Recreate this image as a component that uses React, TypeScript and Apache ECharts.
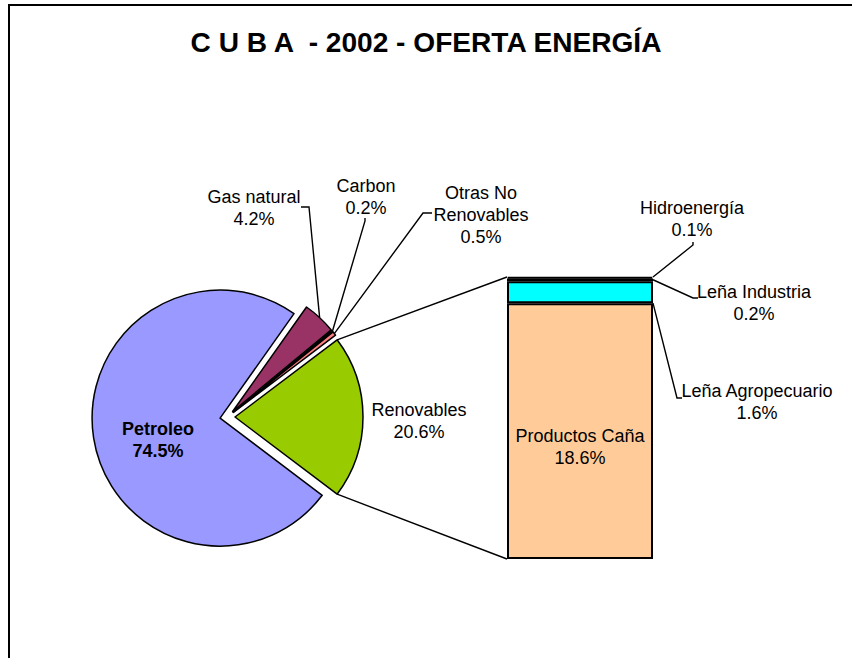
import React, { useEffect, useRef } from 'react';
import * as echarts from 'echarts';

// ---------- data ----------
const TITLE = 'C U B A  - 2002 - OFERTA ENERGÍA';
const pieNames = ['Petroleo', 'Gas natural', 'Carbon', 'Otras No Renovables', 'Renovables'];
const pieValues = [74.5, 4.2, 0.2, 0.5, 20.6];
const pieColors = ['#9999FF', '#993366', '#FFFFCC', '#FF8080', '#99CC00'];

const barNames = ['Productos Caña', 'Leña Agropecuario', 'Leña Industria', 'Hidroenergía'];
const barValues = [18.6, 1.6, 0.2, 0.1];
const barColors = ['#FFCC99', '#00FFFF', '#CCFFCC', '#FFFF99'];

// ---------- layout ----------
const W = 852;
const H = 658;
const FONT = 'Liberation Sans, Arial, sans-serif';
const PIE_CX = 227.5;
const PIE_CY = 417;
const PIE_R = 128;
const EXPLODE = 7.5;
const GRID = { left: 507, top: 277, width: 146, height: 282 };

const PIE_LABEL_POS: Record<string, { x: number; y: number; elbow: number[][] | null }> = {
  'Petroleo': { x: 158, y: 440, elbow: null },
  'Gas natural': { x: 254, y: 208, elbow: [[309, 207], [301, 207]] },
  'Carbon': { x: 366, y: 197, elbow: [[365, 221], [365, 218]] },
  'Otras No Renovables': { x: 481, y: 215, elbow: [[423, 213], [432, 213]] },
  'Renovables': { x: 419, y: 421, elbow: null },
};

const BAR_LABEL_POS: Record<string, { x: number; y: number; elbow: number[][] | null; anchor: number }> = {
  'Productos Caña': { x: 580, y: 447, elbow: null, anchor: 0 },
  'Leña Agropecuario': { x: 757, y: 402, elbow: [[677, 398], [682, 398]], anchor: 0 },
  'Leña Industria': { x: 754, y: 303, elbow: [[693, 298], [698, 298]], anchor: 0.5 },
  'Hidroenergía': { x: 692, y: 219, elbow: [[693, 245], [693, 242]], anchor: 1 },
};

const labelText = (name: string) => name.replace('Otras No ', 'Otras No\n');

export default function App() {
  const ref = useRef<HTMLDivElement>(null);

  useEffect(() => {
    const el = ref.current;
    if (!el) return;
    const chart = echarts.init(el, undefined, { renderer: 'svg', width: W, height: H });

    const total = pieValues.reduce((a, b) => a + b, 0);
    const renovIdx = pieValues.length - 1;
    const startAngle = 360 - (pieValues[renovIdx] / total) * 360 / 2;
    const rad = (d: number) => (d * Math.PI) / 180;
    const angles: { a0: number; a1: number; mid: number }[] = [];
    let cum = 0;
    pieValues.forEach((v) => {
      const a0 = startAngle - (cum / total) * 360;
      const a1 = a0 - (v / total) * 360;
      angles.push({ a0, a1, mid: (a0 + a1) / 2 });
      cum += v;
    });
    const centers = angles.map((a) => [
      PIE_CX + EXPLODE * Math.cos(rad(a.mid)),
      PIE_CY - EXPLODE * Math.sin(rad(a.mid)),
    ]);
    const edgePoint = (i: number, deg: number) => [
      centers[i][0] + PIE_R * Math.cos(rad(deg)),
      centers[i][1] - PIE_R * Math.sin(rad(deg)),
    ];

    const labelBase = {
      fontFamily: FONT,
      fontSize: 18,
      lineHeight: 22,
      color: '#000',
      textBorderWidth: 0,
    };

    const pieSeries = pieNames.map((name, i) => ({
      type: 'pie',
      name,
      silent: true,
      center: centers[i],
      radius: PIE_R,
      startAngle,
      clockwise: true,
      percentPrecision: 1,
      avoidLabelOverlap: false,
      minAngle: 0,
      emphasis: { disabled: true },
      data: pieNames.map((n, j) =>
        j === i
          ? {
              name: n,
              value: pieValues[j],
              itemStyle: { color: pieColors[j], borderColor: '#000', borderWidth: 1.5 },
              label: {
                ...labelBase,
                show: true,
                position: j === 0 ? 'inside' : 'outside',
                fontWeight: j === 0 ? 'bold' : 'normal',
                formatter: (p: any) => `${labelText(p.name)}\n${p.percent}%`,
              },
              labelLine: {
                show: !!PIE_LABEL_POS[n].elbow,
                length: 5,
                length2: 5,
                lineStyle: { color: '#000', width: 1.4 },
              },
            }
          : {
              name: n,
              value: pieValues[j],
              itemStyle: { color: 'rgba(0,0,0,0)', borderWidth: 0 },
              label: { show: false },
              labelLine: { show: false },
            }
      ),
      labelLayout: (p: any) => {
        const n = pieNames[p.dataIndex];
        const pos = PIE_LABEL_POS[n];
        const out: any = { x: pos.x, y: pos.y, align: 'center', verticalAlign: 'middle' };
        if (pos.elbow) {
          out.labelLinePoints = [edgePoint(p.dataIndex, angles[p.dataIndex].mid), ...pos.elbow];
        }
        return out;
      },
    }));

    const barTotal = barValues.reduce((a, b) => a + b, 0);

    const barSeries = barNames.map((name, i) => ({
      type: 'bar',
      name,
      stack: 'renovables',
      barWidth: '100%',
      silent: true,
      emphasis: { disabled: true },
      data: [barValues[i]],
      itemStyle: { color: barColors[i], borderColor: '#000', borderWidth: 2 },
      label: {
        ...labelBase,
        show: true,
        position: 'inside',
        formatter: '{a}\n{c}%',
      },
      labelLayout: {
        x: BAR_LABEL_POS[name].x,
        y: BAR_LABEL_POS[name].y,
        align: 'center',
        verticalAlign: 'middle',
      },
    }));

    chart.setOption({
      animation: false,
      backgroundColor: '#fff',
      title: {
        text: TITLE,
        left: 'center',
        top: 23,
        textStyle: { fontFamily: FONT, fontSize: 28.1, fontWeight: 'bold', color: '#000' },
      },
      grid: { ...GRID, containLabel: false },
      xAxis: { type: 'category', data: ['Renovables'], show: false },
      yAxis: { type: 'value', min: 0, max: barTotal, show: false },
      series: [...pieSeries, ...barSeries],
    });

    // derived decorations: frame, pie-to-bar connectors and bar leader lines
    const yPix = (v: number) => (chart.convertToPixel({ gridIndex: 0 }, [0, v]) as number[])[1];
    const barLeft = GRID.left;
    const barRight = GRID.left + GRID.width;
    const rAng = angles[renovIdx];
    const upper = edgePoint(renovIdx, rAng.a0);
    const lower = edgePoint(renovIdx, rAng.a1);

    const graphics: any[] = [
      {
        type: 'rect',
        silent: true,
        shape: { x: 9, y: 5, width: 1000, height: 1000 },
        style: { fill: 'none', stroke: '#000', lineWidth: 2 },
        z: 100,
      },
      {
        type: 'line',
        silent: true,
        shape: { x1: upper[0], y1: upper[1], x2: barLeft, y2: yPix(barTotal) },
        style: { stroke: '#000', lineWidth: 1.4 },
      },
      {
        type: 'line',
        silent: true,
        shape: { x1: lower[0], y1: lower[1], x2: barLeft, y2: yPix(0) },
        style: { stroke: '#000', lineWidth: 1.4 },
      },
    ];

    let base = 0;
    barNames.forEach((name, i) => {
      const pos = BAR_LABEL_POS[name];
      const v0 = base;
      base += barValues[i];
      if (!pos.elbow) return;
      const anchorV = v0 + barValues[i] * pos.anchor;
      graphics.push({
        type: 'polyline',
        silent: true,
        shape: { points: [[barRight, yPix(anchorV)], ...pos.elbow] },
        style: { stroke: '#000', lineWidth: 1.4, fill: 'none' },
      });
    });

    chart.setOption({ graphic: graphics });

    return () => {
      chart.dispose();
    };
  }, []);

  return (
    <div
      ref={ref}
      style={{ position: 'fixed', left: 0, top: 0, width: W, height: H, background: '#fff' }}
    />
  );
}
